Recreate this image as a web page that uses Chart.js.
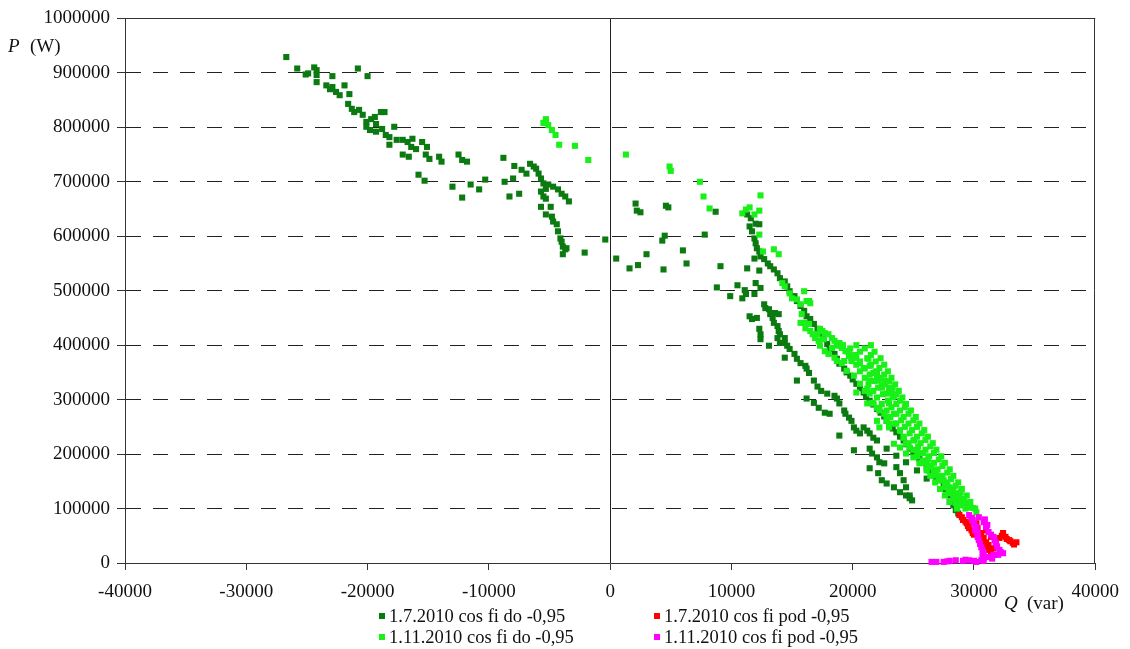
<!DOCTYPE html>
<html>
<head>
<meta charset="utf-8">
<script src="https://cdn.jsdelivr.net/npm/chart.js@4.4.1/dist/chart.umd.min.js"></script>
<style>
  html, body { margin: 0; padding: 0; background: #fff; }
  #chart { display: block; }
</style>
</head>
<body>
<canvas id="chart" width="1130" height="649"></canvas>
<script>
// Q (var), P (W)
const seriesLabels = [
  '1.7.2010 cos fi do -0,95',
  '1.7.2010 cos fi pod -0,95',
  '1.11.2010 cos fi do -0,95',
  '1.11.2010 cos fi pod -0,95'
];
const seriesColors = ['#0b7a10', '#ff0000', '#18f018', '#ff00ff'];

const julyDo = [
  [-26700,929000],[-25800,908000],[-25100,897000],[-24900,899000],[-24400,910000],[-24200,905000],[-24200,896000],[-24200,883000],
  [-22900,894000],[-20800,908000],[-20000,894000],[-23400,877000],[-23100,870000],[-22900,874000],[-22600,865000],[-22300,859000],
  [-21900,877000],[-21500,861000],[-21600,843000],[-21300,834000],[-21100,828000],[-20700,832000],[-20400,823000],[-20100,810000],
  [-19700,815000],[-19400,819000],[-19300,806000],[-18900,828000],[-18600,828000],[-20100,801000],[-19800,795000],[-19300,792000],
  [-18800,797000],[-18500,786000],[-18200,782000],[-17800,801000],[-18200,768000],[-17600,777000],[-17100,777000],[-16700,773000],
  [-16300,779000],[-16400,764000],[-16000,760000],[-15500,773000],[-15200,750000],[-14900,742000],[-15100,764000],[-17100,750000],
  [-16600,746000],[-14100,746000],[-13900,737000],[-15800,713000],[-15300,702000],[-12500,750000],[-12200,740000],[-11800,737000],
  [-13000,691000],[-12200,671000],[-11500,695000],[-10800,686000],[-10300,704000],[-8800,744000],[-7900,729000],[-7300,722000],
  [-6900,715000],[-8700,700000],[-8000,706000],[-8300,673000],[-7500,678000],[-6600,733000],[-6300,728000],[-6100,724000],
  [-5900,715000],[-5700,706000],[-5500,697000],[-5300,687000],[-5100,695000],[-4700,691000],[-4300,686000],[-4000,678000],
  [-3700,673000],[-3400,664000],[-5700,682000],[-5500,673000],[-5300,669000],[-5700,654000],[-5300,640000],[-4900,654000],
  [-4800,636000],[-4700,627000],[-4400,622000],[-4300,609000],[-4100,596000],[-4000,590000],[-3900,581000],[-3700,576000],
  [-3900,567000],[-3600,578000],[-2100,570000],[-400,594000],
  [500,559000],[1600,541000],[2300,547000],[2100,660000],[2200,647000],[2500,644000],[3000,567000],[4400,539000],
  [4300,592000],[4500,601000],[4600,656000],[4800,653000],[6000,574000],[6300,550000],[7800,603000],[8700,645000],
  [9100,545000],[8800,506000],[9900,490000],[10500,510000],[11100,501000],[11200,494000],[11900,494000],[12400,505000],
  [11300,640000],[11600,633000],[11500,618000],[11700,609000],[11900,596000],[12000,587000],[12100,578000],[12300,572000],
  [12400,563000],[12700,558000],[13000,550000],[13200,545000],[13500,539000],[13800,532000],[14000,523000],[14400,517000],
  [14600,508000],[14800,499000],[15200,490000],[15400,481000],[15700,472000],[16000,463000],[16200,453000],[16500,448000],
  [16800,439000],[17100,430000],[17300,420000],[17600,411000],[17900,402000],[18100,393000],[18500,384000],[18700,375000],
  [18900,366000],[19300,357000],[19500,350000],[19800,344000],[20000,337000],[20300,329000],[20600,321000],[20900,313000],
  [21100,305000],[21400,298000],[21700,291000],[22000,283000],[22300,276000],[22600,269000],[22800,261000],[23000,254000],
  [23300,247000],[23600,240000],[23900,232000],[24200,225000],[24400,218000],[24700,210000],[25000,204000],[25300,197000],
  [25500,191000],[25800,185000],[26100,177000],[26300,170000],[26600,164000],[26900,157000],[27200,152000],[27500,146000],
  [27700,135000],[28000,124000],[28000,112000],[28300,106000],[28500,97000],[28700,91000],[12000,623000],[12300,622000],
  [11900,559000],[12300,537000],[11300,541000],[10900,486000],[11200,495000],[12000,514000],[12700,475000],[12800,468000],
  [13100,466000],[13200,457000],[13400,450000],[13500,441000],[13800,435000],[13900,426000],[14000,420000],[14400,413000],
  [14400,404000],[14600,399000],[14800,393000],[15200,384000],[15400,375000],[15700,367000],[16100,362000],[16200,357000],
  [16400,349000],[16800,335000],[17100,324000],[17400,316000],[17900,311000],
  [11500,453000],[11700,448000],[12100,450000],[12300,430000],[12400,420000],[12400,411000],[13100,399000],[13800,413000],
  [14000,404000],[14400,377000],[13600,459000],[13900,457000],[15400,335000],[16200,302000],[16800,294000],[17200,285000],
  [17700,276000],[18100,274000],[18500,307000],[18700,302000],[18900,293000],[19300,280000],[19400,274000],[19700,267000],
  [19900,261000],[20100,249000],[20300,243000],[20600,238000],[20900,249000],[21200,243000],[21400,238000],[21700,230000],
  [22000,225000],[18900,234000],[20100,207000],[21400,210000],[21600,201000],[22000,194000],[22200,185000],[22600,183000],
  [21400,174000],[22100,165000],[22400,152000],[22800,146000],[23400,139000],[23900,130000],[24400,124000],[24700,119000],
  [23600,176000],[23900,165000],[24200,152000],[24400,139000],[24700,124000],[24900,115000],[22800,210000],[23600,197000],
  [24400,185000],[25300,170000],[26100,155000]
];

const julyPod = [
  [28800,88000],[29100,79000],[29400,73000],[29600,64000],[29900,55000],[30200,73000],[30300,64000],[30600,55000],
  [30800,46000],[31000,38000],[31200,33000],[31200,24000],[31600,27000],[31800,37000],[32100,46000],[32400,55000],
  [32600,48000],[32900,42000],[33200,37000],[33500,38000],[31700,15000],[29800,82000],[31000,60000],[31400,48000],
  [29000,84000],[29300,76000],[29500,68000],[29800,60000],[30000,52000],[30400,45000],[30600,40000],[30900,30000],
  [32300,50000],[32700,44000],[33000,40000],[33300,34000],[31900,30000],[31400,20000]
];

const novDo = [
  [-5300,815000],[-5300,810000],[-5100,804000],[-4800,795000],[-4500,786000],[-5500,808000],[-4200,768000],[-2900,766000],
  [-1800,740000],[1300,750000],[4900,728000],[5000,720000],[7400,700000],[7700,673000],[8200,651000],[10900,642000],
  [11200,649000],[11500,653000],[11900,640000],[12300,647000],[12400,675000],[12300,603000],[12600,572000],[13500,576000],
  [13900,567000],[14200,514000],[14400,508000],[14800,495000],[15000,486000],[16000,499000],[16400,481000],[15400,484000],
  [15700,475000],[16200,481000],[16500,477000],[15800,457000],[16000,441000],[15700,441000],[16100,431000],[16400,439000],
  [16500,426000],[16700,420000],[16900,413000],[17200,408000],[17500,426000],[17700,422000],[18000,420000],[18300,413000],
  [18500,408000],[18900,402000],[19100,395000],[19400,389000],[19700,380000],[19900,371000],[20200,377000],[17100,420000],
  [17300,430000],[17600,411000],[17300,399000],[17700,389000],[18000,384000],[18300,395000],[18700,399000],[18900,404000],
  [18500,377000],[18700,371000],[19300,371000],[19700,389000],[20300,377000],[20600,367000],[20900,357000],[21300,375000],
  [21400,362000],[21700,349000],[22000,340000],[22100,335000],[22400,322000],[22600,335000],[23000,322000],[23200,313000],
  [23400,307000],[21000,316000],[21400,311000],[21200,293000],[21600,294000],[22000,285000],[22200,283000],[22600,274000],
  [22800,267000],[23000,256000],[22000,261000],[22200,249000],[23000,249000],[19100,367000],[19500,353000],[20100,344000],
  [20600,329000],[20300,313000],[21200,320000],[21400,335000],[22000,347000],[22400,325000],[22800,311000],[23000,293000],
  [23400,274000],[21700,293000],[22200,280000],[22800,261000],[23600,256000],[23900,243000],[24200,230000],[24400,219000],
  [24700,212000],[25000,225000],[25300,207000],[25500,201000],[25800,188000],[26100,183000],[26300,176000],[26700,170000],
  [26900,165000],[27100,157000],[27500,152000],[27700,146000],[28000,139000],[28300,133000],[28500,128000],[28800,121000],
  [29100,115000],[29400,110000],[29600,102000],[29900,101000],[23400,219000],[23900,212000],[24400,201000],[25000,194000],
  [25500,183000],[26100,170000],[26700,161000],[27100,152000],[27700,139000],[28300,128000],[28800,115000],[27900,128000],
  [28300,119000],[29100,106000],[30200,93000],[28500,110000],
  [19200,400000],[20300,400000],[21500,400000],[19600,388000],[20600,388000],[21800,388000],[19900,376000],[21200,376000],
  [22300,376000],[20300,364000],[21500,364000],[22600,364000],[20600,352000],[21900,352000],[22900,352000],[21000,340000],
  [22300,340000],[23200,340000],[21300,328000],[22700,328000],[23500,328000],[21700,316000],[23000,316000],[23800,316000],
  [22000,304000],[23300,304000],[24100,304000],[22400,292000],[23600,292000],[24400,292000],[22800,280000],[23900,280000],
  [24800,280000],[23100,268000],[24200,268000],[25200,268000],[23500,256000],[24600,256000],[25500,256000],[23900,244000],
  [24900,244000],[25900,244000],[24200,232000],[25300,232000],[26200,232000],[24600,220000],[25600,220000],[26600,220000],
  [25000,208000],[26000,208000],[26900,208000],[25300,196000],[26300,196000],[27300,196000],[25700,184000],[26700,184000],
  [27600,184000],[26100,172000],[27000,172000],[28000,172000],[26400,160000],[27400,160000],[28300,160000],[26800,148000],
  [27800,148000],[28700,148000],[27200,136000],[28100,136000],[29000,136000],[27600,124000],[28500,124000],[29400,124000],
  [28000,112000],[28900,112000],[29700,112000],[28600,100000],[29300,100000],[30100,100000],
  [19800,394000],[21000,394000],[20200,382000],[21500,382000],[20600,370000],[21900,370000],[21000,358000],[22200,358000],
  [21400,346000],[22600,346000],[21800,334000],[23000,334000],[22100,322000],[23300,322000],[22500,310000],[23600,310000],
  [22900,298000],[23900,298000],[23200,286000],[24300,286000],[23600,274000],[24600,274000],[24000,262000],[25000,262000],
  [24300,250000],[25300,250000],[24700,238000],[25700,238000],[25100,226000],[26000,226000],[25400,214000],[26400,214000],
  [25800,202000],[26700,202000],[26200,190000],[27100,190000],[26500,178000],[27400,178000],[26900,166000],[27800,166000],
  [27300,154000],[28100,154000],[27600,142000],[28500,142000],[28000,130000],[28900,130000],[28400,118000],[29200,118000],
  [28800,106000],[29600,106000]
];

const novPod = [
  [29600,88000],[29900,79000],[30200,66000],[30300,55000],[30400,42000],[30600,29000],[30800,18000],[30800,9000],
  [30600,5000],[30200,2000],[29600,5000],[29100,4000],[28500,5000],[28000,4000],[27500,2000],[26900,2000],
  [26500,2000],[30400,84000],[30800,75000],[31000,66000],[31200,57000],[31600,48000],[31800,37000],[32100,24000],
  [32400,18000],[32000,15000],[31600,15000],[31200,11000],
  [29800,83000],[30000,72000],[30100,60000],[30300,48000],[30500,35000],[30700,24000],[30700,13000],[30900,80000],
  [31100,70000],[31400,52000],[31700,42000],[31900,30000],[32200,20000],[27800,3000],[29300,6000],[30000,4000],
  [30800,4000],[31500,8000]
];

const FONT = 'Liberation Serif, Times New Roman, serif';
const INK = '#111';

const makeSet = (i, data, order) => ({
  label: seriesLabels[i],
  data: data.map(([q, p]) => ({ x: q, y: p })),
  backgroundColor: seriesColors[i],
  borderColor: seriesColors[i],
  pointStyle: 'rect',
  pointRadius: 4.3,
  pointHoverRadius: 4.3,
  pointBorderWidth: 0,
  clip: false,
  order
});

// top/right frame lines, axis titles and the two-column legend
const extras = {
  id: 'extras',
  beforeDatasetsDraw(chart) {
    const { ctx, chartArea: a } = chart;
    ctx.save();
    ctx.strokeStyle = '#333';
    ctx.lineWidth = 1;
    ctx.beginPath();
    ctx.moveTo(a.left, Math.round(a.top) + 0.5);
    ctx.lineTo(a.right, Math.round(a.top) + 0.5);
    ctx.moveTo(Math.round(a.right) - 0.5, a.top);
    ctx.lineTo(Math.round(a.right) - 0.5, a.bottom);
    ctx.stroke();
    ctx.restore();
  },
  afterDraw(chart) {
    const { ctx } = chart;
    ctx.save();
    ctx.fillStyle = INK;
    ctx.textBaseline = 'alphabetic';
    ctx.textAlign = 'left';

    ctx.font = `italic 19px ${FONT}`;
    ctx.fillText('P', 8, 52);
    ctx.font = `19px ${FONT}`;
    ctx.fillText('(W)', 30, 52);

    ctx.font = `italic 19px ${FONT}`;
    ctx.fillText('Q', 1004, 609);
    ctx.font = `19px ${FONT}`;
    ctx.fillText('(var)', 1027, 609);

    const cols = [382, 657];
    const rows = [616, 637];
    const order = [[0, 1], [2, 3]];
    ctx.textBaseline = 'middle';
    ctx.font = `18.5px ${FONT}`;
    order.forEach((row, r) => {
      row.forEach((idx, c) => {
        ctx.fillStyle = seriesColors[idx];
        ctx.fillRect(cols[c] - 3, rows[r] - 3, 6, 6);
        ctx.fillStyle = INK;
        ctx.fillText(seriesLabels[idx], cols[c] + 7, rows[r] + 1);
      });
    });
    ctx.restore();
  }
};

new Chart(document.getElementById('chart'), {
  type: 'scatter',
  data: {
    datasets: [
      makeSet(0, julyDo, 4),
      makeSet(1, julyPod, 2),
      makeSet(2, novDo, 3),
      makeSet(3, novPod, 1)
    ]
  },
  options: {
    responsive: false,
    animation: false,
    devicePixelRatio: 1,
    layout: { padding: { top: 16, right: 30, left: 0, bottom: 0 } },
    plugins: { legend: { display: false }, tooltip: { enabled: false } },
    scales: {
      x: {
        type: 'linear',
        min: -40000,
        max: 40000,
        afterFit: s => { s.height = 86; },
        ticks: {
          stepSize: 10000,
          autoSkip: false,
          maxRotation: 0,
          padding: 11,
          color: INK,
          font: { family: FONT, size: 19 },
          callback: v => String(v)
        },
        grid: {
          color: c => (c.tick && c.tick.value === 0 ? '#222' : 'rgba(0,0,0,0)'),
          tickColor: '#333',
          tickLength: 7
        },
        border: { color: '#333', width: 1 }
      },
      y: {
        type: 'linear',
        min: 0,
        max: 1000000,
        afterFit: s => { s.width = 125; },
        ticks: {
          stepSize: 100000,
          autoSkip: false,
          padding: 7,
          color: INK,
          font: { family: FONT, size: 19 },
          callback: v => String(v)
        },
        grid: {
          color: c => (c.tick && c.tick.value > 0 && c.tick.value < 1000000 ? '#222' : 'rgba(0,0,0,0)'),
          tickColor: '#333',
          tickLength: 8,
          tickBorderDash: []
        },
        border: { color: '#333', width: 1, dash: [15, 12] }
      }
    }
  },
  plugins: [extras]
});
</script>
</body>
</html>
